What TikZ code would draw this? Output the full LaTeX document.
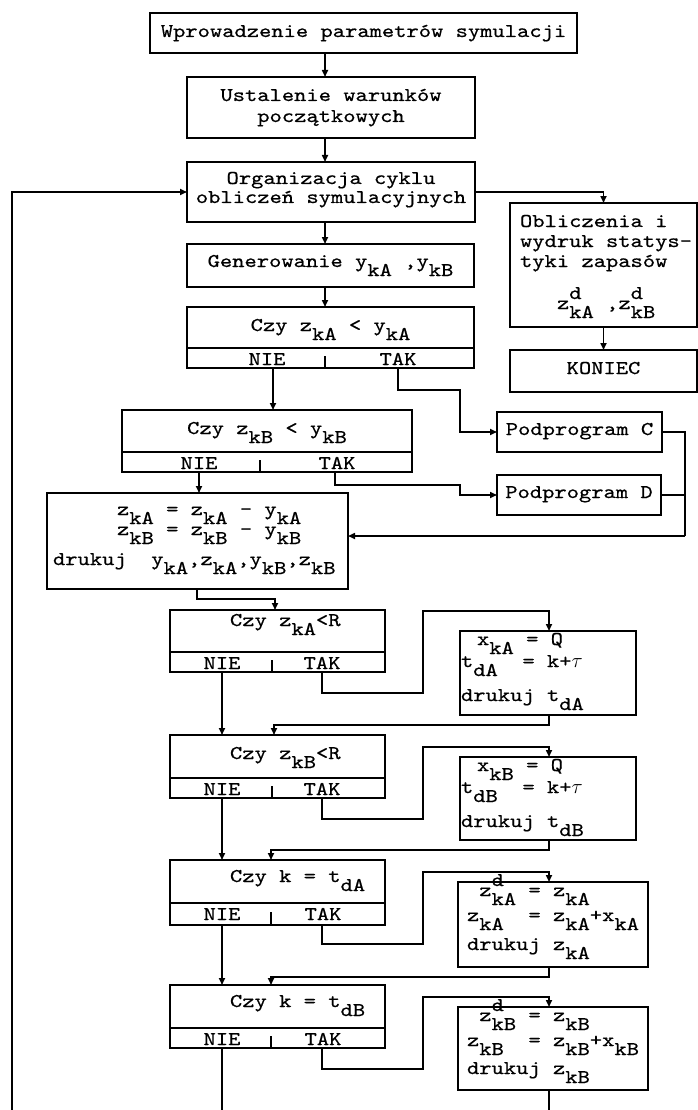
\documentclass[tikz,border=0pt]{standalone}
\usepackage{fontspec}
\setmainfont{lmmono10-regular.otf}[FakeStretch=1.2,FakeBold=0.6]
\usetikzlibrary{arrows.meta}
\newcommand\sbs[1]{\raisebox{-9pt}[0pt][0pt]{#1}}
\newcommand\sps[1]{\rlap{\raisebox{10pt}[0pt][0pt]{#1}}}
\newcommand\fbl[1]{\rule{0pt}{#1pt}}
\newcommand\pbx[3]{\parbox[c][#2pt][t]{#1pt}{#3}}
\tikzset{
  every node/.style={font=\fontsize{19.5}{21}\selectfont},
  bx/.style={draw, line width=1.8pt, inner sep=0pt, outer sep=0pt, anchor=north west},
  band/.style={bx, minimum height=20pt},
  ln/.style={line width=1.6pt},
  arr/.style={ln, -{Triangle[length=7pt,width=6pt]}},
  lab/.style={anchor=base, inner sep=0pt},
}
\begin{document}
\begin{tikzpicture}[x=1pt,y=-1pt]
\fill[white] (0,0) rectangle (698,1110);
\path[use as bounding box] (0,0) rectangle (698,1110);

% ---------- boxes ----------
\node[bx] (B1) at (150,13) {\pbx{427}{40}{\centering\fbl{24}Wprowadzenie parametrów symulacji}};
\node[bx] (B2) at (187,77) {\pbx{288}{61}{\centering\fbl{24}Ustalenie warunków\\ początkowych}};
\node[bx] (B3) at (187,162) {\pbx{288}{60}{\centering\fbl{22}Organizacja cyklu\\[-2pt] obliczeń symulacyjnych}};
\node[bx] (B4) at (187,244) {\pbx{287}{43}{\centering\fbl{23}Generowanie y\sbs{kA} ,y\sbs{kB}}};

\node[bx] (B5q) at (187,307) {\pbx{287}{41}{\centering\fbl{24}Czy z\sbs{kA} < y\sbs{kA}}};
\node[band, minimum width=287pt] (B5b) at (187,348) {};
\node[lab] (n5) at (267,365) {NIE};
\node[lab] (t5) at (398,365) {TAK};

\node[bx] (Obl) at (510,203) {\pbx{187}{124}{\fbl{24}\hspace*{10pt}Obliczenia i\\[-1pt] \hspace*{10pt}wydruk statys-\\[-1pt] \hspace*{10pt}tyki zapasów\\[21pt] \hspace*{47pt}z\sps{d}\sbs{kA} ,z\sps{d}\sbs{kB}}};
\node[bx] (KON) at (510,350) {\pbx{187}{42}{\centering\fbl{24}KONIEC}};

\node[bx] (B6q) at (122,410) {\pbx{290}{42}{\centering\fbl{24}Czy z\sbs{kB} < y\sbs{kB}}};
\node[band, minimum width=290pt] (B6b) at (122,452) {};
\node[lab] (n6) at (199,469) {NIE};
\node[lab] (t6) at (337,469) {TAK};

\node[bx] (PC) at (497,412) {\pbx{165}{40}{\centering\fbl{23}Podprogram C}};
\node[bx] (PD) at (497,475) {\pbx{164}{40}{\centering\fbl{23}Podprogram D}};

\node[bx] (B7) at (47,493) {\pbx{301}{96}{\fbl{22}\hspace*{70pt}z\sbs{kA} = z\sbs{kA} - y\sbs{kA}\\[-1pt] \hspace*{70pt}z\sbs{kB} = z\sbs{kB} - y\sbs{kB}\\[9pt] \hspace*{6pt}drukuj~~y\sbs{kA},z\sbs{kA},y\sbs{kB},z\sbs{kB}}};

\node[bx] (B8q) at (170,610) {\pbx{215}{42}{\fbl{16}\hspace*{60pt}Czy z\sbs{kA}<R}};
\node[band, minimum width=215pt] (B8b) at (170,652) {};
\node[lab] (n8) at (222,669) {NIE};
\node[lab] (t8) at (322,669) {TAK};

\node[bx] (XA) at (460,631) {\pbx{176}{84}{\fbl{14}\hspace*{17pt}x\sbs{kA} = Q\\[1pt] \hspace*{1pt}t\sbs{dA}~~= k+$\tau$\\[13pt] \hspace*{1pt}drukuj t\sbs{dA}}};

\node[bx] (B9q) at (170,735) {\pbx{215}{43}{\fbl{24}\hspace*{60pt}Czy z\sbs{kB}<R}};
\node[band, minimum width=215pt] (B9b) at (170,778) {};
\node[lab] (n9) at (222,795) {NIE};
\node[lab] (t9) at (322,795) {TAK};

\node[bx] (XB) at (460,757) {\pbx{176}{83}{\fbl{14}\hspace*{17pt}x\sbs{kB} = Q\\[1pt] \hspace*{1pt}t\sbs{dB}~~= k+$\tau$\\[13pt] \hspace*{1pt}drukuj t\sbs{dB}}};

\node[bx] (B10q) at (170,860) {\pbx{215}{43}{\fbl{22}\hspace*{60pt}Czy k = t\sbs{dA}}};
\node[band, minimum width=215pt, minimum height=22pt] (B10b) at (170,903) {};
\node[lab] (n10) at (222,920) {NIE};
\node[lab] (t10) at (323,920) {TAK};

\node[bx] (ZA) at (458,882) {\pbx{190}{85}{\fbl{14}\hspace*{9pt}~z\sps{d}\sbs{kA} = z\sbs{kA}\\[4pt] \hspace*{9pt}z\sbs{kA}~~= z\sbs{kA}+x\sbs{kA}\\[8pt] \hspace*{9pt}drukuj z\sbs{kA}}};

\node[bx] (B11q) at (170,985) {\pbx{215}{43}{\fbl{22}\hspace*{60pt}Czy k = t\sbs{dB}}};
\node[band, minimum width=215pt] (B11b) at (170,1028) {};
\node[lab] (n11) at (222,1045) {NIE};
\node[lab] (t11) at (323,1045) {TAK};

\node[bx] (ZB) at (458,1007) {\pbx{190}{83}{\fbl{14}\hspace*{9pt}~z\sps{d}\sbs{kB} = z\sbs{kB}\\[4pt] \hspace*{9pt}z\sbs{kB}~~= z\sbs{kB}+x\sbs{kB}\\[7pt] \hspace*{9pt}drukuj z\sbs{kB}}};

% ---------- band dividers ----------
\draw[ln] (325,356) -- (325,368);
\draw[ln] (260,460) -- (260,472);
\draw[ln] (272,660) -- (272,672);
\draw[ln] (272,786) -- (272,798);
\draw[ln] (271,912) -- (271,925);
\draw[ln] (271,1036) -- (271,1048);

% ---------- column coordinates ----------
\coordinate (cM) at (325,0);
\coordinate (x5n) at (273,0);
\coordinate (x5t) at (398,0);
\coordinate (x6n) at (199,0);
\coordinate (x6t) at (335,0);
\coordinate (xN) at (222,0);
\coordinate (xT) at (322,0);

% ---------- main column ----------
\draw[arr] (B1.south -| cM) -- (B2.north -| cM);
\draw[arr] (B2.south -| cM) -- (B3.north -| cM);
\draw[arr] (B3.south -| cM) -- (B4.north -| cM);
\draw[arr] (B4.south -| cM) -- (B5q.north -| cM);

\draw[arr] (B3.east) -| (Obl.north);
\draw[arr] (Obl.south) -- (KON.north);

% B5
\draw[arr] (B5b.south -| x5n) -- (B6q.north -| x5n);
\coordinate (j1) at (460,390);
\draw[arr] (B5b.south -| x5t) |- (j1) |- (PC.west);

% B6
\draw[arr] (B6b.south -| x6n) -- (B7.north -| x6n);
\coordinate (j2) at (460,485);
\draw[arr] (B6b.south -| x6t) |- (j2) |- (PD.west);

% return from subprograms
\coordinate (j3) at (685,536);
\draw[ln] (PC.east) -| (j3);
\draw[ln] (PD.east) -- (PD.east -| j3);
\draw[arr] (j3) -- (j3 -| B7.east);

% B7 -> B8
\coordinate (j4) at (197,599);
\coordinate (j4b) at (275,599);
\draw[arr] (B7.south -| j4) -- (j4) -- (j4b) -- (B8q.north -| j4b);

% B8
\draw[arr] (B8b.south -| xN) -- (B9q.north -| xN);
\coordinate (j5) at (423,693);
\coordinate (j6) at (549,611);
\draw[arr] (B8b.south -| xT) |- (j5) |- (j6) -- (XA.north -| j6);
\coordinate (j7) at (549,725);
\coordinate (j7b) at (274,725);
\draw[arr] (XA.south -| j7) -- (j7) -- (j7b) -- (B9q.north -| j7b);

% B9
\draw[arr] (B9b.south -| xN) -- (B10q.north -| xN);
\coordinate (j8) at (423,819);
\coordinate (j9) at (549,747);
\draw[arr] (B9b.south -| xT) |- (j8) |- (j9) -- (XB.north -| j9);
\coordinate (j10) at (549,850);
\coordinate (j10b) at (271,850);
\draw[arr] (XB.south -| j10) -- (j10) -- (j10b) -- (B10q.north -| j10b);

% B10
\draw[arr] (B10b.south -| xN) -- (B11q.north -| xN);
\coordinate (j11) at (423,944);
\coordinate (j12) at (549,872);
\draw[arr] (B10b.south -| xT) |- (j11) |- (j12) -- (ZA.north -| j12);
\coordinate (j13) at (549,977);
\coordinate (j13b) at (271,977);
\draw[arr] (ZA.south -| j13) -- (j13) -- (j13b) -- (B11q.north -| j13b);

% B11
\coordinate (e1) at (222,1110);
\draw[ln] (B11b.south -| e1) -- (e1);
\coordinate (j14) at (423,1069);
\coordinate (j15) at (549,997);
\draw[arr] (B11b.south -| xT) |- (j14) |- (j15) -- (ZB.north -| j15);
\coordinate (e2) at (549,1110);
\draw[ln] (ZB.south -| e2) -- (e2);

% loop back
\coordinate (e3) at (12,1110);
\draw[arr] (e3) |- (B3.west);
\end{tikzpicture}
\end{document}
